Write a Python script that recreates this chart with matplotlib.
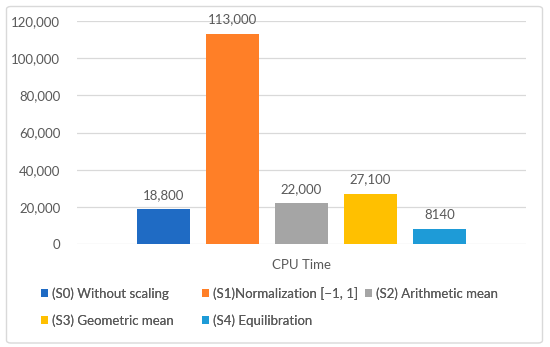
import matplotlib
matplotlib.use("Agg")
import matplotlib.pyplot as plt
from matplotlib.patches import FancyBboxPatch
from matplotlib.ticker import FuncFormatter

plt.rcParams['font.family'] = ['Lato', 'DejaVu Sans']

category = "CPU Time"
series = ["(S0) Without scaling", "(S1)Normalization [\u22121, 1]", "(S2) Arithmetic mean",
          "(S3) Geometric mean", "(S4) Equilibration"]
values = [18800, 113000, 22000, 27100, 8140]
value_labels = ["18,800", "113,000", "22,000", "27,100", "8140"]
colors = ["#1F6BC4", "#FF7F27", "#A5A5A5", "#FFC000", "#1E9BD7"]
yticks = [0, 20000, 40000, 60000, 80000, 100000, 120000]

W, H = 550, 347
fig = plt.figure(figsize=(5.5, 3.47), dpi=100)
ax = fig.add_axes([77 / W, 1 - 244.3 / H, (526 - 77) / W, (244.3 - 20.7) / H])

txt = "#595959"
fs = 9.5
step = 0.1537
width = 0.120
bars = []
for i, (s, v, c, lab) in enumerate(zip(series, values, colors, value_labels)):
    x = (i - 2) * step
    b = ax.bar(x, v, width=width, color=c, label=s, zorder=3)
    bars.append(b)
    ax.annotate(lab, (x, v), xytext=(0, 6), textcoords="offset points",
                ha="center", va="bottom", fontsize=fs, color=txt)

ax.set_xlim(-0.5, 0.5)
ax.set_ylim(0, 120000)
ax.set_yticks(yticks)
ax.yaxis.set_major_formatter(FuncFormatter(lambda v, p: f"{int(v):,}"))
ax.set_xticks([0])
ax.set_xticklabels([category])
ax.tick_params(axis="both", length=0, labelsize=fs, labelcolor=txt)
ax.tick_params(axis="y", pad=12)
ax.tick_params(axis="x", pad=10.5)
ax.grid(axis="y", color="#D9D9D9", linewidth=0.9, zorder=0)
for sp in ax.spines.values():
    sp.set_visible(False)

# legends, one per column
cols = [(40.7, [0, 3]), (202, [1, 4]), (365, [2])]
for xpx, idx in cols:
    leg = fig.legend([bars[i] for i in idx], [series[i] for i in idx],
                     loc="upper left", bbox_to_anchor=(xpx / W, 1 - 287 / H),
                     frameon=False, fontsize=fs, labelcolor=txt,
                     handlelength=0.55, handleheight=0.55, handletextpad=0.3,
                     labelspacing=1.1, borderpad=0, borderaxespad=0)
    fig.add_artist(leg)

border = FancyBboxPatch((6.5 / W, 4 / H), (542.5 - 6.5) / W, (340.5 - 4) / H,
                        boxstyle="round,pad=0,rounding_size=0.008",
                        transform=fig.transFigure, facecolor="none",
                        edgecolor="#D9D9D9", linewidth=1.0)
fig.patches.append(border)

fig.savefig("out.png", dpi=100)
